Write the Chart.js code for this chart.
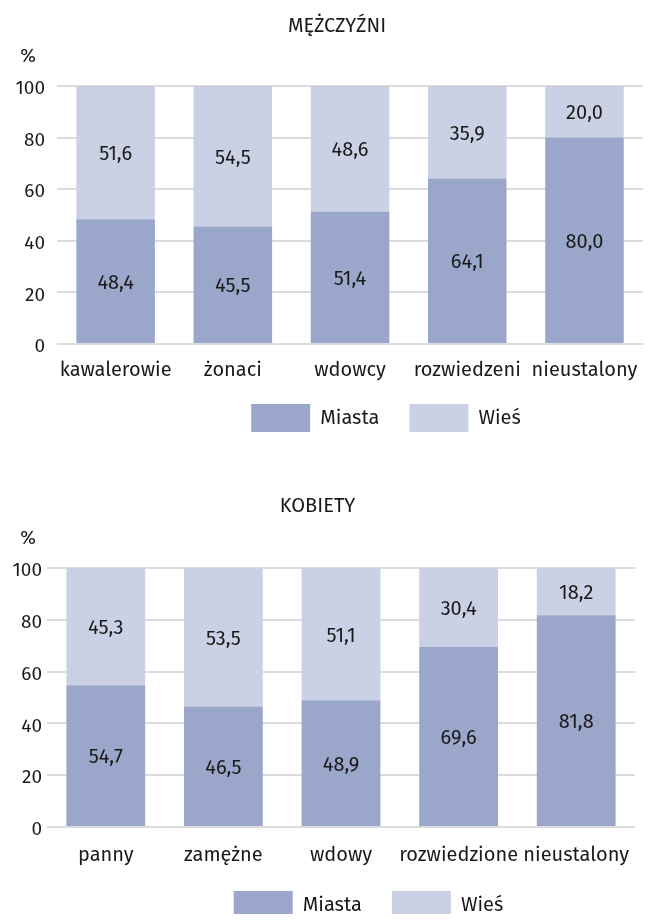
<!DOCTYPE html>
<html>
<head>
<meta charset="utf-8">
<script src="https://cdn.jsdelivr.net/npm/chart.js@4.4.0/dist/chart.umd.min.js"></script>
<style>
  body { margin: 0; background: #fff; }
  .box { position: absolute; left: 0; width: 652px; height: 440px; }
</style>
</head>
<body>
<div class="box" style="top:0"><canvas id="mCanvas" width="652" height="440"></canvas></div>
<div class="box" style="top:480px"><canvas id="kCanvas" width="652" height="440"></canvas></div>
<script>
var seriesNames = ['Miasta', 'Wieś'];
var seriesColors = ['#9aa6ca', '#cbd1e5'];

var menLabels = ['kawalerowie', 'żonaci', 'wdowcy', 'rozwiedzeni', 'nieustalony'];
var menCity = [48.4, 45.5, 51.4, 64.1, 80.0];
var menVillage = [51.6, 54.5, 48.6, 35.9, 20.0];

var womenLabels = ['panny', 'zamężne', 'wdowy', 'rozwiedzione', 'nieustalony'];
var womenCity = [54.7, 46.5, 48.9, 69.6, 81.8];
var womenVillage = [45.3, 53.5, 51.1, 30.4, 18.2];

var FONT = "'Fira Sans', 'Open Sans', sans-serif";
var INK = '#1a1a1a';

// value in the middle of every segment
var valueLabels = {
  id: 'valueLabels',
  afterDatasetsDraw(chart) {
    var ctx = chart.ctx;
    ctx.save();
    ctx.font = '20px ' + FONT;
    ctx.fillStyle = INK;
    ctx.textAlign = 'center';
    ctx.textBaseline = 'middle';
    chart.data.datasets.forEach((ds, i) => {
      chart.getDatasetMeta(i).data.forEach((bar, j) => {
        var txt = ds.data[j].toFixed(1).replace('.', ',');
        ctx.fillText(txt, bar.x, (bar.y + bar.base) / 2 + 2);
      });
    });
    ctx.restore();
  }
};

// "%" unit above the y axis
var unitLabel = {
  id: 'unitLabel',
  afterDraw(chart) {
    var ctx = chart.ctx;
    ctx.save();
    ctx.font = '19px ' + FONT;
    ctx.fillStyle = INK;
    ctx.textAlign = 'center';
    ctx.textBaseline = 'middle';
    ctx.fillText('%', 28, chart.chartArea.top - 29);
    ctx.restore();
  }
};

// move an already laid out box (title / legend) by dx, dy when drawing
function nudge(el, dx, dy) {
  var draw = el.draw;
  el.draw = function () {
    this.ctx.save();
    this.ctx.translate(dx, dy);
    draw.apply(this, arguments);
    this.ctx.restore();
  };
}

function makeChart(id, title, labels, city, village, lay) {
  var placeBoxes = {
    id: 'placeBoxes',
    beforeInit(chart) {
      var fit = chart.legend.fit;
      chart.legend.fit = function () {
        fit.call(this);
        this.height = lay.legendH;
      };
      nudge(chart.legend, lay.legendDx, lay.legendDy);
      nudge(chart.titleBlock, lay.titleDx, 0);
    }
  };

  return new Chart(document.getElementById(id), {
    type: 'bar',
    data: {
      labels: labels,
      datasets: [
        { label: seriesNames[0], data: city, backgroundColor: seriesColors[0] },
        { label: seriesNames[1], data: village, backgroundColor: seriesColors[1] }
      ]
    },
    options: {
      responsive: false,
      animation: false,
      devicePixelRatio: 1,
      categoryPercentage: 0.67,
      barPercentage: 1,
      layout: { padding: { left: 0, right: lay.right, top: 0, bottom: 0 } },
      plugins: {
        title: {
          display: true,
          text: title,
          color: INK,
          font: { family: FONT, size: 20, weight: 'normal' },
          padding: { top: 14, bottom: lay.titleGap }
        },
        legend: {
          position: 'bottom',
          labels: {
            color: INK,
            font: { family: FONT, size: 20 },
            boxWidth: 59,
            boxHeight: 28,
            padding: 30
          }
        },
        tooltip: { enabled: false }
      },
      scales: {
        x: {
          stacked: true,
          afterFit(scale) { scale.height = lay.xH; },
          grid: { display: false, drawTicks: false },
          border: { display: false },
          ticks: { color: INK, font: { family: FONT, size: 20 }, padding: lay.xPad, maxRotation: 0, autoSkip: false }
        },
        y: {
          stacked: true,
          min: 0,
          max: 100,
          afterFit(scale) { scale.width = lay.left; },
          grid: { color: '#dcdcdc', lineWidth: 2, drawTicks: false },
          border: { display: false },
          ticks: { stepSize: 20, color: INK, font: { family: FONT, size: 19 }, padding: lay.yPad, labelOffset: 3 }
        }
      }
    },
    plugins: [placeBoxes, valueLabels, unitLabel]
  });
}

makeChart('mCanvas', 'MĘŻCZYŹNI', menLabels, menCity, menVillage,
  { left: 57, right: 6, yPad: 12, titleGap: 48, titleDx: 14,
    xH: 38, xPad: 14, legendH: 58, legendDx: 63, legendDy: -8 });
makeChart('kCanvas', 'KOBIETY', womenLabels, womenCity, womenVillage,
  { left: 47, right: 17, yPad: 5, titleGap: 50, titleDx: 0,
    xH: 40, xPad: 16, legendH: 53, legendDx: 51, legendDy: -6 });
</script>
</body>
</html>
